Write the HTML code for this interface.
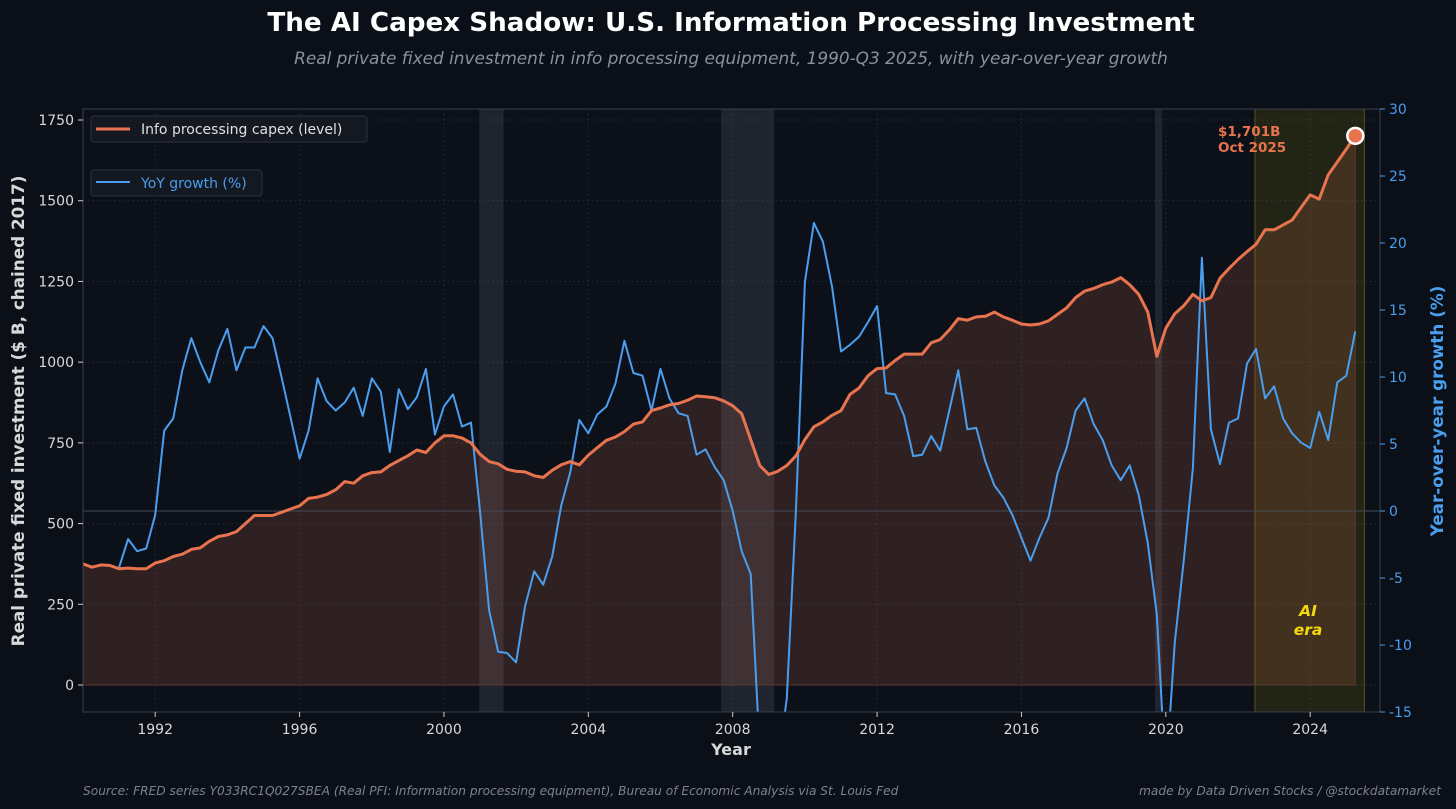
<!DOCTYPE html>
<html><head><meta charset="utf-8"><style>
html,body{margin:0;padding:0;background:#0b0f17;}
svg{display:block;font-family:"DejaVu Sans","Liberation Sans",sans-serif;}
</style></head><body>
<svg id="c" width="1456" height="809" viewBox="0 0 1456 809">
<rect x="0" y="0" width="1456" height="809" fill="#0b0f17"/>
<text x="731" y="31" text-anchor="middle" fill="#ffffff" font-size="26.2" font-weight="bold">The AI Capex Shadow: U.S. Information Processing Investment</text>
<text x="731" y="64" text-anchor="middle" fill="#8b919c" font-size="16.9" font-style="italic">Real private fixed investment in info processing equipment, 1990-Q3 2025, with year-over-year growth</text>
<rect x="83" y="109" width="1297" height="603" fill="#0c1019"/>
<g id="grid"></g>
<g id="shade"></g>
<g id="series"></g>
<rect x="83" y="109" width="1297" height="603" fill="none" stroke="#3a3f4a" stroke-width="1"/>
<g id="axes"></g>
<g>
<rect x="91" y="116" width="276" height="26" rx="3" fill="#141821" stroke="#2c313b"/>
<line x1="96" y1="129" x2="130" y2="129" stroke="#e8744f" stroke-width="3"/>
<text x="141" y="134" fill="#e0e0e0" font-size="14">Info processing capex (level)</text>
</g>
<g>
<rect x="91" y="170" width="171" height="26" rx="3" fill="#141821" stroke="#2c313b"/>
<line x1="96" y1="182" x2="130" y2="182" stroke="#4a9eee" stroke-width="2"/>
<text x="141" y="188" fill="#4a9eee" font-size="14">YoY growth (%)</text>
</g>
<text x="1218" y="136" fill="#e8744f" font-size="13.5" font-weight="bold">$1,701B</text>
<text x="1218" y="152" fill="#e8744f" font-size="13.5" font-weight="bold">Oct 2025</text>
<text x="1308" y="616" text-anchor="middle" fill="#f5d90a" font-size="15.5" font-weight="bold" font-style="italic">AI</text>
<text x="1308" y="635" text-anchor="middle" fill="#f5d90a" font-size="15.5" font-weight="bold" font-style="italic">era</text>
<text x="731" y="755" text-anchor="middle" fill="#d8d8d8" font-size="16" font-weight="bold">Year</text>
<text transform="translate(24,411) rotate(-90)" text-anchor="middle" fill="#d8d8d8" font-size="16.8" font-weight="bold">Real private fixed investment ($ B, chained 2017)</text>
<text transform="translate(1443,411) rotate(-90)" text-anchor="middle" fill="#4a9eee" font-size="16.8" font-weight="bold">Year-over-year growth (%)</text>
<text x="83" y="795" fill="#7d828c" font-size="12.2" font-style="italic">Source: FRED series Y033RC1Q027SBEA (Real PFI: Information processing equipment), Bureau of Economic Analysis via St. Louis Fed</text>
<text x="1441" y="795" text-anchor="end" fill="#7d828c" font-size="12.2" font-style="italic">made by Data Driven Stocks / @stockdatamarket</text>
</svg>
<script>
const levelValues=[375,365,372,370, 360,362,360,360, 378,385,398,405, 420,425,445,460, 465,475,500,525,
525,525,535,545, 555,578,582,590, 605,630,625,648, 658,660,680,695, 710,728,720,750,
772,772,765,750, 715,692,685,668, 662,660,648,643, 665,682,692,682, 712,735,758,768,
785,808,815,850, 858,868,872,882, 895,893,890,880, 865,840,760,680, 652,662,680,710,
760,800,815,835, 850,900,920,958, 980,982,1005,1025, 1025,1025,1060,1070, 1100,1135,1130,1140,
1142,1155,1140,1130, 1118,1115,1118,1128, 1148,1168,1200,1220, 1228,1240,1248,
1262,1240,1210,1155, 1018,1105,1150,1175, 1210,1190,1200,1260, 1290,1318,1342,1365, 1410,1410,1425,1440,
1480,1518,1505,1580, 1620,1660,1701];
const yoyValues=[-4.2,-2.1,-3.0,-2.8,-0.3,6.0,6.9,10.5,12.9,11.1,9.6,12.0,13.6,10.5,12.2,12.2,13.8,12.9,10.0,7.0,
3.9,6.0,9.9,8.2,7.5,8.1,9.2,7.1,9.9,8.9,4.4,9.1,7.6,8.5,10.6,5.7,7.8,8.7,6.3,6.6,
0.0,-7.4,-10.5,-10.6,-11.3,-7.1,-4.5,-5.5,-3.4,0.4,2.9,6.8,5.8,7.2,7.8,9.5,12.7,10.3,10.1,7.5,
10.6,8.4,7.3,7.1,4.2,4.6,3.3,2.3,0.0,-3.0,-4.7,-18,-20,-19,-14,0,17.1,21.5,20.1,16.8,
11.9,12.4,13.0,14.1,15.3,8.8,8.7,7.1,4.1,4.2,5.6,4.5,7.5,10.5,6.1,6.2,3.7,1.9,1.0,-0.3,
-2.0,-3.7,-2.0,-0.5,2.8,4.7,7.5,8.4,6.5,5.3,3.4,2.3,3.4,1.2,-2.4,-7.7,-20,-9.8,-3.6,3.2,
18.9,6.1,3.5,6.6,6.9,11.0,12.1,8.4,9.3,6.9,5.8,5.1,4.7,7.4,5.3,9.6,10.1,13.4];
const levelStartYear=1990, yoyStartYear=1991;
const xTicks=[1992,1996,2000,2004,2008,2012,2016,2020,2024];
const leftTicks=[0,250,500,750,1000,1250,1500,1750];
const rightTicks=[-15,-10,-5,0,5,10,15,20,25,30];
const recessions=[[2000.98,2001.65],[2007.68,2009.15],[2019.7,2019.9]];
const aiEra=[2022.47,2025.5];

const NS="http://www.w3.org/2000/svg";
const X0=83,X1=1380,Y0=109,Y1=712;
const xs=y=>X0+(y-1990)*(1155/32);
const yl=v=>685-v*(565/1750);
const yr=v=>511-v*(402/30);
function mk(tag,attrs,parent){const e=document.createElementNS(NS,tag);for(const k in attrs)e.setAttribute(k,attrs[k]);parent.appendChild(e);return e;}
const grid=document.getElementById('grid'),shade=document.getElementById('shade'),series=document.getElementById('series'),axes=document.getElementById('axes');
const svg=document.getElementById('c');
const defs=mk('defs',{},svg);
const cp=mk('clipPath',{id:'clip'},defs);mk('rect',{x:X0,y:Y0,width:X1-X0,height:Y1-Y0},cp);
series.setAttribute('clip-path','url(#clip)');

xTicks.forEach(t=>{const x=xs(t);
 const g=mk('line',{x1:x,y1:Y0,x2:x,y2:Y1,stroke:'#262b35','stroke-dasharray':'1.5,3'},grid);
 
 
 const tk=mk('line',{x1:x,y1:Y1,x2:x,y2:Y1+5,stroke:'#cccccc'},axes);
 
 
 const tx=mk('text',{x:x,y:Y1+22,'text-anchor':'middle',fill:'#d8d8d8','font-size':'14'},axes);tx.textContent=t;
 
 
});
leftTicks.forEach(t=>{const y=yl(t);
 const g=mk('line',{x1:X0,y1:y,x2:X1,y2:y,stroke:'#262b35','stroke-dasharray':'1.5,3'},grid);
 
 
 const tk=mk('line',{x1:X0-5,y1:y,x2:X0,y2:y,stroke:'#cccccc'},axes);
 
 
 const tx=mk('text',{x:X0-9,y:y+5,'text-anchor':'end',fill:'#d8d8d8','font-size':'14'},axes);tx.textContent=t;
 
 
});
rightTicks.forEach(t=>{const y=yr(t);
 const tk=mk('line',{x1:X1,y1:y,x2:X1+5,y2:y,stroke:'#4a9eee'},axes);
 
 
 const tx=mk('text',{x:X1+9,y:y+5,fill:'#4a9eee','font-size':'14'},axes);tx.textContent=t;
 
 
});
recessions.forEach(r=>{const e=mk('rect',{x:xs(r[0]),y:Y0,width:xs(r[1])-xs(r[0]),height:Y1-Y0,fill:'#8090a8','fill-opacity':'0.16'},shade);
 
 });
const ai=mk('rect',{x:xs(aiEra[0]),y:Y0,width:xs(aiEra[1])-xs(aiEra[0]),height:Y1-Y0,fill:'#c8b400','fill-opacity':'0.12',stroke:'#5a5518'},shade);



const lx=i=>xs(levelStartYear+i/4);
let pts=levelValues.map((v,i)=>lx(i).toFixed(1)+','+yl(v).toFixed(1));
const n=levelValues.length-1;
const area=mk('polygon',{points:lx(0)+','+yl(0)+' '+pts.join(' ')+' '+lx(n)+','+yl(0),fill:'#e8744f','fill-opacity':'0.16',stroke:'#5a3a32','stroke-width':'1'},series);


const zl=mk('line',{x1:X0,y1:yr(0),x2:X1,y2:yr(0),stroke:'#454a55','stroke-width':'1'},series);


const yoyPts=yoyValues.map((v,i)=>xs(yoyStartYear+i/4).toFixed(1)+','+yr(v).toFixed(1));
const yl2=mk('polyline',{points:yoyPts.join(' '),fill:'none',stroke:'#4a9eee','stroke-width':'2','stroke-linejoin':'round'},series);


const ll=mk('polyline',{points:pts.join(' '),fill:'none',stroke:'#e8744f','stroke-width':'3','stroke-linejoin':'round'},series);


const mkr=mk('circle',{cx:lx(n),cy:yl(levelValues[n]),r:8,fill:'#e8744f',stroke:'#ffffff','stroke-width':'2.5'},svg);


</script>
</body></html>
